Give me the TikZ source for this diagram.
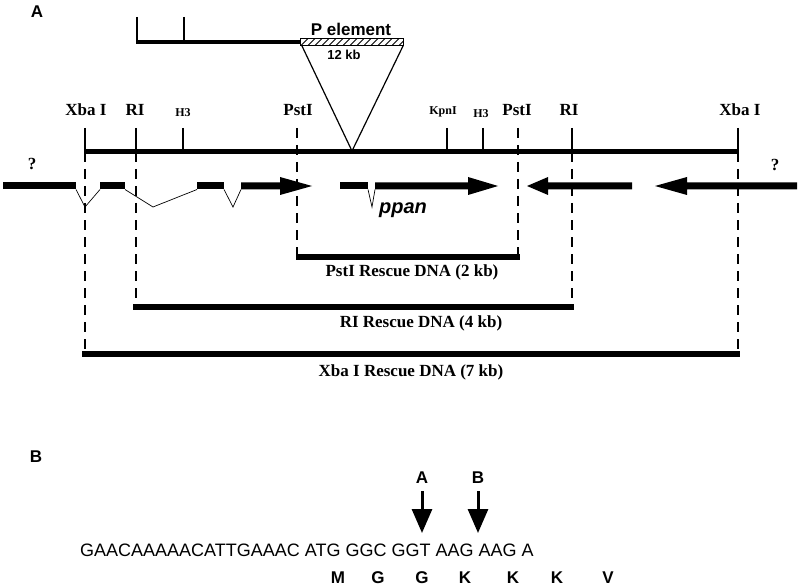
\documentclass[tikz,border=0pt]{standalone}
\usepackage{fontspec}
\setmainfont{Liberation Serif}
\setsansfont{Liberation Sans}
\usetikzlibrary{arrows.meta}
\begin{document}
\begin{tikzpicture}[x=1pt,y=-1pt,
  serlab/.style={font=\bfseries\fontsize{17}{17}\selectfont, inner sep=0pt},
  smlab/.style={font=\bfseries\fontsize{12}{12}\selectfont, inner sep=0pt},
  sanslab/.style={font=\sffamily\bfseries\fontsize{17}{17}\selectfont, inner sep=0pt},
  sanssm/.style={font=\sffamily\bfseries\fontsize{13}{13}\selectfont, inner sep=0pt},
  seqfont/.style={font=\sffamily\fontsize{18}{18}\selectfont, inner sep=0pt},
  mainline/.style={line width=5pt},
  topline/.style={line width=4.5pt},
  tickmark/.style={line width=2.5pt},
  dashline/.style={line width=1.3pt, dash pattern=on 10pt off 7pt},
  rescue/.style={line width=5.5pt},
  intron/.style={line width=0.7pt},
  gene/.style={fill=black},
  ptri/.style={line width=1.2pt},
  mutarrow/.style={line width=3pt, -{Triangle[width=20pt,length=24pt]}},
]
\useasboundingbox[fill=white] (0,0) rectangle (800,588);

% ---------- panel labels
\node[sanslab] (lblA) at (37,12) {A};
\node[sanslab] (lblB) at (36,457) {B};

% ---------- P element construct
\coordinate (t0) at (137,42);
\coordinate (pL) at (300,42);
\draw[topline] (t0) -- (pL);
\draw[tickmark] (137,17) -- (137,44);
\draw[tickmark] (184,17) -- (184,44);
\begin{scope}
  \clip (300,38.5) rectangle (403,45.5);
  \fill[white] (300,38.5) rectangle (403,45.5);
  \foreach \x in {294,301,...,408} { \draw[line width=1pt] (\x,45.5) -- (\x+7,38.5); }
\end{scope}
\draw[line width=1pt] (300,38.5) rectangle (403,45.5);
\node[sanslab] (pel) at (351,29) {P element};
\node[sanssm] (kb) at (344,55) {12 kb};
\coordinate (triL) at (302,46);
\coordinate (triR) at (403,46);
\coordinate (ins) at (352,151);
\draw[ptri] (triL) -- (ins) -- (triR);

% ---------- genomic map
\coordinate (mL) at (85,152);
\coordinate (mR) at (738,152);
\draw[mainline] (mL) -- (mR);
\foreach \x in {85,136,183,447,483,572,738} { \draw[tickmark] (\x,128) -- (\x,153); }

\node[serlab] (xbaL) at (86,110) {Xba I};
\node[serlab] (riL) at (135,110) {RI};
\node[smlab] (h3L) at (183,113) {H3};
\node[serlab] (pstL) at (298,110) {PstI};
\node[smlab] (kpn) at (443,112) {KpnI};
\node[smlab] (h3R) at (481,114) {H3};
\node[serlab] (pstR) at (517,110) {PstI};
\node[serlab] (riR) at (569,110) {RI};
\node[serlab] (xbaR) at (740,110) {Xba I};
\node[serlab] (qL) at (32,164) {?};
\node[serlab] (qR) at (775,165) {?};

% ---------- dashed guides
\draw[dashline] (85,152) -- (85,354);
\draw[dashline] (136,152) -- (136,307);
\draw[dashline] (297,128) -- (297,257);
\draw[dashline] (518,128) -- (518,257);
\draw[dashline] (572,152) -- (572,307);
\draw[dashline] (738,152) -- (738,354);

% ---------- genes
% left gene
\fill[gene] (3,182.5) rectangle (76,189.5);
\draw[intron] (76,189.5) -- (85,207) -- (100,189.5);
\fill[gene] (100,182.5) rectangle (125,189.5);
\draw[intron] (125,189.5) -- (153,207) -- (197,189.5);
\fill[gene] (197,182.5) rectangle (224,189.5);
\draw[intron] (224,189.5) -- (233,207) -- (241,189.5);
\fill[gene] (241,182.5) -- (280,182.5) -- (280,177) -- (312,186) -- (280,195) -- (280,189.5) -- (241,189.5) -- cycle;
% ppan
\fill[gene] (340,182.5) rectangle (368,189.5);
\draw[intron] (368,189.5) -- (372,207) -- (375,189.5);
\fill[gene] (375,182.5) -- (468,182.5) -- (468,177) -- (498,186) -- (468,195) -- (468,189.5) -- (375,189.5) -- cycle;
\node[font=\sffamily\bfseries\itshape\fontsize{20}{20}\selectfont, inner sep=0pt] (ppan) at (403,210) {ppan};
% right genes
\fill[gene] (632,182.5) -- (548,182.5) -- (548,177) -- (527,186) -- (548,195) -- (548,189.5) -- (632,189.5) -- cycle;
\fill[gene] (797,182.5) -- (687,182.5) -- (687,177) -- (655,186) -- (687,195) -- (687,189.5) -- (797,189.5) -- cycle;

% ---------- rescue fragments
\draw[rescue] (296,257) -- (520,257);
\node[serlab] (pstRes) at (412,272) {PstI Rescue DNA (2 kb)};
\draw[rescue] (133,307) -- (574,307);
\node[serlab] (riRes) at (421,323) {RI Rescue DNA (4 kb)};
\draw[rescue] (82,354) -- (740,354);
\node[serlab] (xbaRes) at (411,372) {Xba I Rescue DNA (7 kb)};

% ---------- panel B
\node[seqfont, anchor=west] (seq) at (80,550) {GAACAAAAACATTGAAAC ATG GGC GGT AAG AAG A};
\node[sanslab] (mutA) at (422,478) {A};
\node[sanslab] (mutB) at (478,478) {B};
\coordinate (aS) at (422,491);
\coordinate (aE) at (422,533);
\coordinate (bS) at (478,491);
\coordinate (bE) at (478,533);
\draw[mutarrow] (aS) -- (aE);
\draw[mutarrow] (bS) -- (bE);
\foreach \x/\l [count=\i] in {338/M,378/G,422/G,465/K,513/K,557/K,608/V}
  { \node[sanslab] (aa\i) at (\x,578) {\l}; }
\end{tikzpicture}
\end{document}
